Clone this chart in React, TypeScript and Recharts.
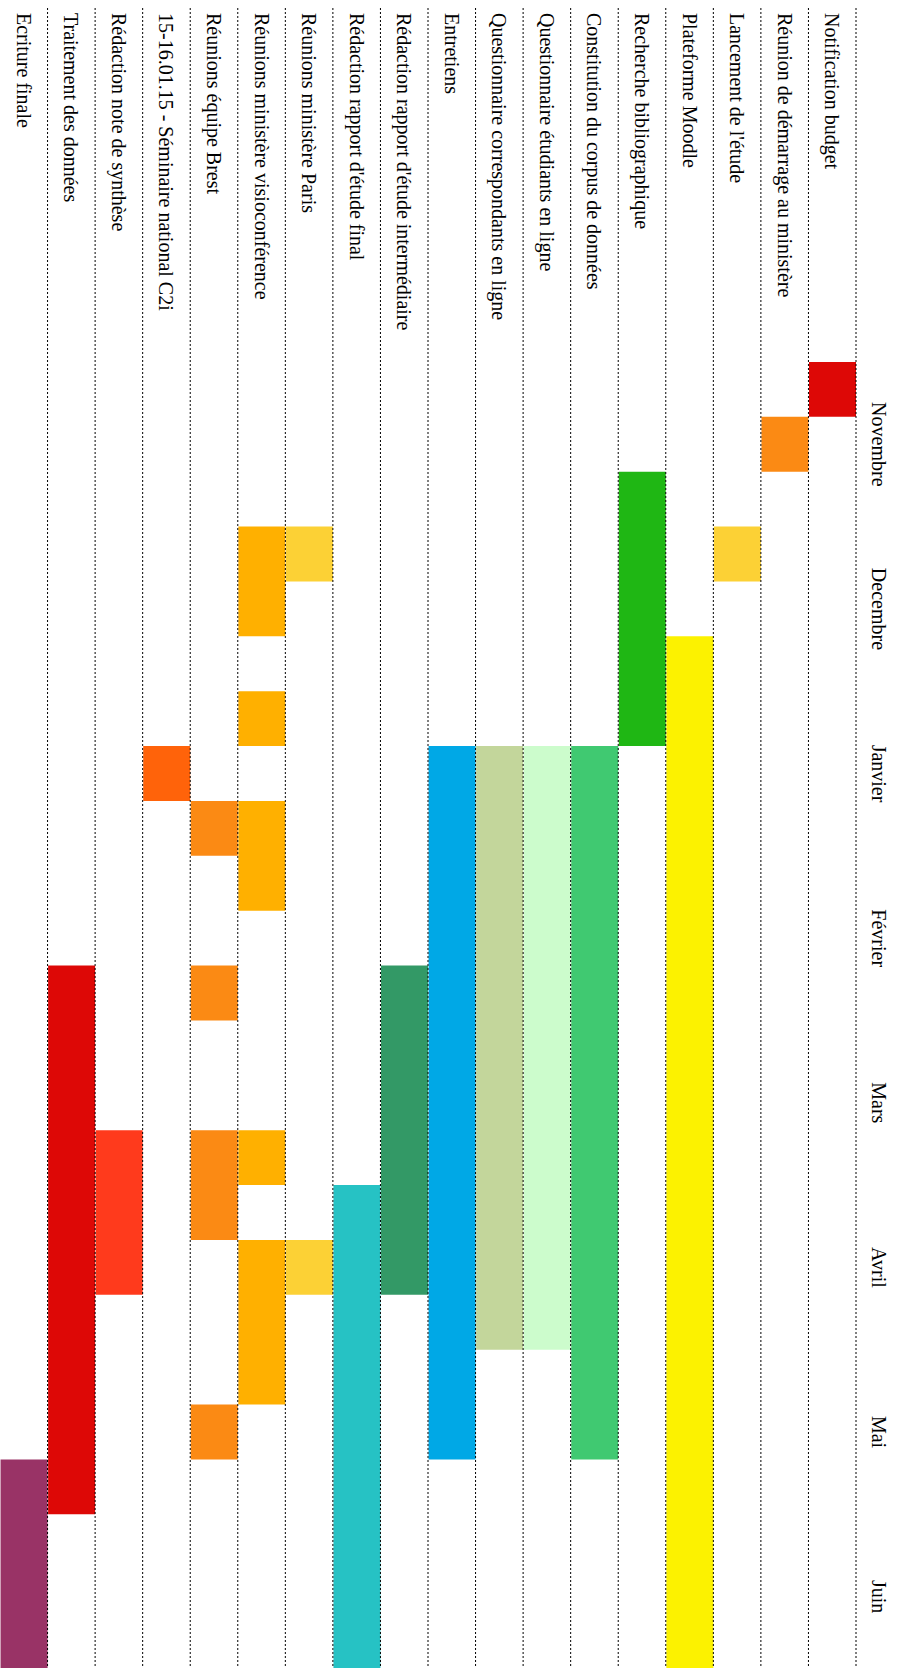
import React from "react";
import { Bar, BarChart, Cell, XAxis, YAxis } from "recharts";

// chart is drawn landscape, then turned a quarter turn clockwise
const CHART_W = 1668;
const CHART_H = 901;
const AXIS_H = 45;
const LABEL_W = 362;
const FONT = "'Liberation Serif', 'Times New Roman', serif";

const tasks = [
  "Notification budget",
  "Réunion de démarrage au ministère",
  "Lancement de l'étude",
  "Plateforme Moodle",
  "Recherche bibliographique",
  "Constitution du corpus de données",
  "Questionnaire étudiants en ligne",
  "Questionnaire correspondants en ligne",
  "Entretiens",
  "Rédaction rapport d'étude intermédiaire",
  "Rédaction rapport d'étude final",
  "Réunions ministère Paris",
  "Réunions ministère visioconférence",
  "Réunions équipe Brest",
  "15-16.01.15 - Séminaire national C2i",
  "Rédaction note de synthèse",
  "Traitement des données",
  "Ecriture finale",
];

const taskColors = [
  "#dd0806",
  "#fb8a14",
  "#fcd135",
  "#fcf200",
  "#1fb714",
  "#40c971",
  "#ccfccc",
  "#c3d69b",
  "#00a8e6",
  "#339966",
  "#26c2c4",
  "#fcd135",
  "#ffb000",
  "#fb8a14",
  "#ff630a",
  "#ff3a1c",
  "#dd0806",
  "#993366",
];

// periods in thirds of a month (décades), 0 = 1st of November
const periods: [number, number][][] = [
  [[0, 1]],
  [[1, 2]],
  [[3, 4]],
  [[5, 24]],
  [[2, 7]],
  [[7, 20]],
  [[7, 18]],
  [[7, 18]],
  [[7, 20]],
  [[11, 17]],
  [[15, 24]],
  [[3, 4], [16, 17]],
  [[3, 5], [6, 7], [8, 10], [14, 15], [16, 19]],
  [[8, 9], [11, 12], [14, 16], [19, 20]],
  [[7, 8]],
  [[14, 17]],
  [[11, 21]],
  [[20, 24]],
];

const months = ["Novembre", "Decembre", "Janvier", "Février", "Mars", "Avril", "Mai", "Juin"];
const monthTicks = months.map((_, i) => i * 3 + 1.5);
const DOMAIN_END = 23.8;

const maxSegs = Math.max(...periods.map((p) => p.length));
const segKeys = Array.from({ length: maxSegs }, (_, i) => "seg" + i);

const data = tasks.map((name, i) => {
  const row: Record<string, any> = { name };
  periods[i].forEach((p, k) => {
    row["seg" + k] = p;
  });
  return row;
});

const ROW_H = (CHART_H - AXIS_H) / tasks.length;
const BAR_SIZE = Math.floor(ROW_H);

const TaskTick = (props: any) => {
  const { y, payload } = props;
  const top = y - ROW_H / 2;
  return (
    <g>
      <line x1={8} x2={CHART_W} y1={top} y2={top} stroke="#000" strokeDasharray="2 2" />
      <text x={13} y={y} dominantBaseline="central" fontSize={20} fontFamily={FONT} fill="#000">
        {payload.value}
      </text>
    </g>
  );
};

const MonthTick = (props: any) => {
  const { x, payload } = props;
  const i = monthTicks.indexOf(payload.value);
  return (
    <text x={x} y={29} textAnchor="middle" fontSize={20} fontFamily={FONT} fill="#000">
      {months[i]}
    </text>
  );
};

export default function App() {
  return (
    <div style={{ position: "absolute", left: 0, top: 0, width: CHART_H, height: CHART_W, overflow: "hidden", background: "#fff" }}>
      <div
        style={{
          width: CHART_W,
          height: CHART_H,
          transformOrigin: "0 0",
          transform: `translateX(${CHART_H}px) rotate(90deg)`,
        }}
      >
        <BarChart
          width={CHART_W}
          height={CHART_H}
          data={data}
          layout="vertical"
          margin={{ top: 0, right: 0, bottom: 0, left: 0 }}
          barCategoryGap={0}
          barGap={-BAR_SIZE}
        >
          <XAxis
            type="number"
            orientation="top"
            height={AXIS_H}
            domain={[0, DOMAIN_END]}
            allowDataOverflow
            ticks={monthTicks}
            tick={<MonthTick />}
            axisLine={false}
            tickLine={false}
          />
          {segKeys.map((key) => (
            <Bar key={key} dataKey={key} barSize={BAR_SIZE} isAnimationActive={false}>
              {data.map((_, i) => (
                <Cell key={i} fill={taskColors[i]} />
              ))}
            </Bar>
          ))}
          <YAxis
            type="category"
            dataKey="name"
            width={LABEL_W}
            interval={0}
            tick={<TaskTick />}
            axisLine={false}
            tickLine={false}
          />
        </BarChart>
      </div>
    </div>
  );
}
